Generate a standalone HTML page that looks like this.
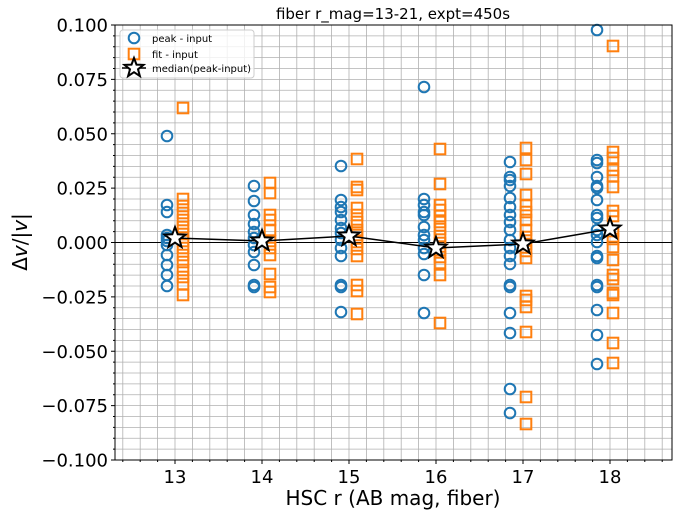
<!DOCTYPE html><html><head><style>body{margin:0;background:#fff}svg{display:block}text{font-family:"DejaVu Sans","Liberation Sans",sans-serif}</style></head><body>
<svg id="s" width="680" height="516" xmlns="http://www.w3.org/2000/svg"></svg>
<script>
const s=document.getElementById('s');let h='';
const L=115,R=672,T=25,B=460;
const xp=v=>175+(v-13)*87, yp=v=>242.5-v*2175;
h+=`<rect x="${L}" y="${T}" width="${R-L}" height="${B-T}" fill="#fff"/>`;
for(let v=12.4;v<18.75;v+=0.2){const x=xp(v);if(x>L&&x<R)h+=`<line x1="${x}" y1="${T}" x2="${x}" y2="${B}" stroke="#b0b0b0" stroke-width="0.8"/>`;}
for(let i=0;i<=40;i++){const y=T+i*10.875;h+=`<line x1="${L}" y1="${y}" x2="${R}" y2="${y}" stroke="#b0b0b0" stroke-width="0.8"/>`;}
h+=`<line x1="${L}" y1="242.5" x2="${R}" y2="242.5" stroke="#000" stroke-width="1"/>`;
const C=[[167,[136,205,212,235,238,241,245,255,265,275,286]],[254,[186,201,215,224,232,238,245,252,265,285,287]],[341,[166,200,207,212,220,228,233,240,248,256,285,287,312]],[424,[87,199,205,212,215,227,235,240,248,254,275,313]],[510,[162,177,180,186,198,207,215,222,230,240,248,256,264,285,287,313,333,389,413]],[597,[30,160,163,177,186,188,200,215,218,230,235,242,256,258,285,287,310,335,364]]];
const S=[[183,[108,199,206,213,220,227,234,241,248,255,262,270,277,284,295]],[270,[183,193,215,220,230,241,248,255,274,287,292]],[357,[159,187,190,208,215,222,230,235,242,249,256,285,291,314]],[440,[149,184,205,210,216,222,229,236,243,250,257,263,275,323]],[526,[148,160,174,195,205,212,220,230,237,244,251,258,296,300,307,332,397,424]],[613,[46,152,158,170,176,187,211,216,231,239,247,260,275,279,293,295,313,343,363]]];
C.forEach(([x,ys])=>ys.forEach(y=>h+=`<circle cx="${x}" cy="${y}" r="5.3" fill="none" stroke="#1f77b4" stroke-width="2"/>`));
S.forEach(([x,ys])=>ys.forEach(y=>h+=`<rect x="${x-5.3}" y="${y-5.3}" width="10.6" height="10.6" fill="none" stroke="#ff7f0e" stroke-width="2"/>`));
const M=[[175,238],[262,241],[349,236],[436,248],[523,244],[610,229]];
h+=`<polyline points="${M.map(p=>p.join(',')).join(' ')}" fill="none" stroke="#000" stroke-width="1.5"/>`;
function star(cx,cy,r){let p=[];for(let i=0;i<10;i++){const a=-Math.PI/2+i*Math.PI/5,rr=i%2?r*0.42:r;p.push((cx+rr*Math.cos(a)).toFixed(1)+','+(cy+rr*Math.sin(a)).toFixed(1));}return `<polygon points="${p.join(' ')}" fill="#fff" stroke="#000" stroke-width="2"/>`;}
M.forEach(([x,y])=>h+=star(x,y,11));
h+=`<rect x="${L}" y="${T}" width="${R-L}" height="${B-T}" fill="none" stroke="#000" stroke-width="1"/>`;
const yl=['0.100','0.075','0.050','0.025','0.000','−0.025','−0.050','−0.075','−0.100'];
for(let i=0;i<=40;i++){const y=T+i*10.875;h+=`<line x1="${L}" y1="${y}" x2="${L-(i%5?2:4)}" y2="${y}" stroke="#000"/>`;}
yl.forEach((t,i)=>{const y=T+i*54.375;h+=`<text x="${L-7}" y="${y+6.5}" font-size="18" text-anchor="end">${t}</text>`;});
for(let v=12.4;v<18.75;v+=0.2){const x=xp(v);if(x>L&&x<R)h+=`<line x1="${x}" y1="${B}" x2="${x}" y2="${B+2}" stroke="#000"/>`;}
for(let k=13;k<=18;k++){const x=xp(k);h+=`<line x1="${x}" y1="${B}" x2="${x}" y2="${B+4}" stroke="#000"/><text x="${x}" y="${B+23}" font-size="18" text-anchor="middle">${k}</text>`;}
h+=`<text x="393" y="505" font-size="20" text-anchor="middle">HSC r (AB mag, fiber)</text>`;
h+=`<text transform="translate(27,242) rotate(-90)" font-size="20" text-anchor="middle">Δ<tspan font-style="italic">v</tspan>/|<tspan font-style="italic">v</tspan>|</text>`;
h+=`<text x="393" y="19" font-size="15" text-anchor="middle">fiber r_mag=13-21, expt=450s</text>`;
h+=`<rect x="120" y="30" width="134" height="48" rx="3" fill="#fff" fill-opacity="0.8" stroke="#ccc"/>`;
h+=`<circle cx="134" cy="38" r="5.3" fill="none" stroke="#1f77b4" stroke-width="2"/><text x="152" y="42" font-size="10">peak - input</text>`;
h+=`<rect x="128.7" y="48.7" width="10.6" height="10.6" fill="none" stroke="#ff7f0e" stroke-width="2"/><text x="152" y="58" font-size="10">fit - input</text>`;
h+=`<line x1="122" y1="68" x2="146" y2="68" stroke="#000" stroke-width="1.5"/>`+star(134,68,10)+`<text x="152" y="72" font-size="10">median(peak-input)</text>`;
s.innerHTML=h;
</script></body></html>
